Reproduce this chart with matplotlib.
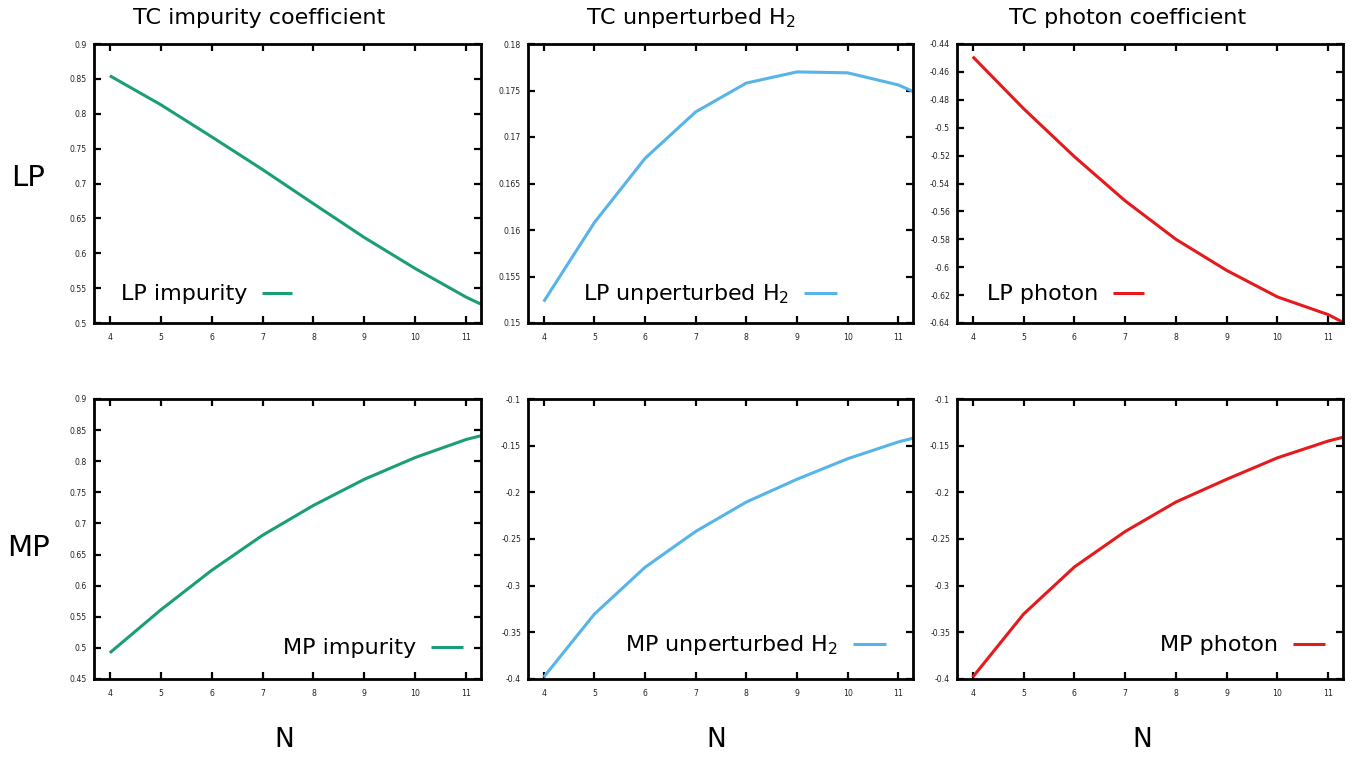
import numpy as np
import matplotlib
matplotlib.use("Agg")
import matplotlib.pyplot as plt
from matplotlib.ticker import FixedLocator, FuncFormatter
from matplotlib.transforms import offset_copy

plt.rcParams['font.family'] = ['DejaVu Sans']
plt.rcParams['axes.unicode_minus'] = False
plt.rcParams['mathtext.fontset'] = 'dejavusans'

# ---------------- data ----------------
N = [4, 5, 6, 7, 8, 9, 10, 11, 11.29]

lp_impurity = [0.8545, 0.813, 0.767, 0.720, 0.671, 0.6225, 0.578, 0.537, 0.527]
lp_unpert = [0.1523, 0.1608, 0.1677, 0.1727, 0.1758, 0.1770, 0.1769, 0.1756, 0.1749]
lp_photon = [-0.4491, -0.4863, -0.5207, -0.5524, -0.580, -0.6023, -0.6213, -0.634, -0.6395]

mp_impurity = [0.492, 0.561, 0.6246, 0.681, 0.729, 0.771, 0.806, 0.835, 0.841]
mp_unpert = [-0.398, -0.3305, -0.2803, -0.2419, -0.2104, -0.186, -0.164, -0.146, -0.142]
mp_photon = [-0.398, -0.3305, -0.280, -0.242, -0.2104, -0.186, -0.163, -0.145, -0.141]

x_ticks = [4, 5, 6, 7, 8, 9, 10, 11]
x_limits = [3.69, 11.29]

col_titles = ["TC impurity coefficient", "TC unperturbed H$_2$", "TC photon coefficient"]
row_labels = ["LP", "MP"]
x_label = "N"

series = [
    [lp_impurity, lp_unpert, lp_photon],
    [mp_impurity, mp_unpert, mp_photon],
]
key_labels = [
    ["LP impurity", "LP unperturbed H$_2$", "LP photon"],
    ["MP impurity", "MP unperturbed H$_2$", "MP photon"],
]
y_ranges = [
    [(0.5, 0.9, 0.05), (0.15, 0.18, 0.005), (-0.64, -0.44, 0.02)],
    [(0.45, 0.9, 0.05), (-0.4, -0.1, 0.05), (-0.4, -0.1, 0.05)],
]
colors = ["#1b9e77", "#56b4e9", "#e41a1c"]

# ---------------- layout (pixels) ----------------
W, H = 1354, 758
col_left = [94, 528, 957]
col_w = [387, 385, 386]
row_top = [44, 399]
row_h = [279, 280]
# key line positions in axes fraction (x0, x1, y)
key_pos = [
    [(0.434, 0.512, 0.108), (0.717, 0.803, 0.108), (0.404, 0.484, 0.108)],
    [(0.871, 0.953, 0.114), (0.844, 0.930, 0.125), (0.870, 0.953, 0.125)],
]

fig = plt.figure(figsize=(W / 100, H / 100), dpi=100)


def fmt(v, pos):
    s = ("%.3f" % v).rstrip('0').rstrip('.')
    if s in ("-0", ""):
        s = "0"
    return s


for r in range(2):
    for c in range(3):
        left = col_left[c] / W
        bottom = 1 - (row_top[r] + row_h[r]) / H
        ax = fig.add_axes([left, bottom, col_w[c] / W, row_h[r] / H])
        ax.plot(N, series[r][c], color=colors[c], lw=2.2, solid_capstyle='butt')
        lo, hi, step = y_ranges[r][c]
        ax.set_xlim(*x_limits)
        ax.set_ylim(lo, hi)
        nt = int(round((hi - lo) / step))
        yt = [lo + i * step for i in range(nt + 1)]
        ax.yaxis.set_major_locator(FixedLocator(yt))
        ax.yaxis.set_major_formatter(FuncFormatter(fmt))
        ax.xaxis.set_major_locator(FixedLocator(x_ticks))
        ax.tick_params(direction='in', length=4.8, width=1.6, labelsize=5.6,
                       labelcolor='#222222', top=True, right=True, pad=5)
        ax.tick_params(axis='x', pad=7)
        for sp in ax.spines.values():
            sp.set_linewidth(2.0)

        # key: text followed by line sample
        x0, x1, ky = key_pos[r][c]
        ax.plot([x0, x1], [ky, ky], transform=ax.transAxes, color=colors[c],
                lw=2.2, clip_on=False, solid_capstyle='butt')
        tr = offset_copy(ax.transAxes, fig=fig, x=-15, y=-7, units='dots')
        ax.text(x0, ky, key_labels[r][c], transform=tr, ha='right', va='baseline',
                fontsize=16)

# column titles
title_x = [259, 691, 1128]
for c in range(3):
    fig.text(title_x[c] / W, 1 - 18 / H, col_titles[c], ha='center', va='center',
             fontsize=16)

# row labels
row_y = [178, 548]
for r in range(2):
    fig.text(28 / W, 1 - row_y[r] / H, row_labels[r], ha='center', va='center',
             fontsize=21)

# x labels
n_x = [284, 716, 1142]
for c in range(3):
    fig.text(n_x[c] / W, 1 - 740 / H, x_label, ha='center', va='center', fontsize=19)

fig.savefig("out.png", dpi=100)
